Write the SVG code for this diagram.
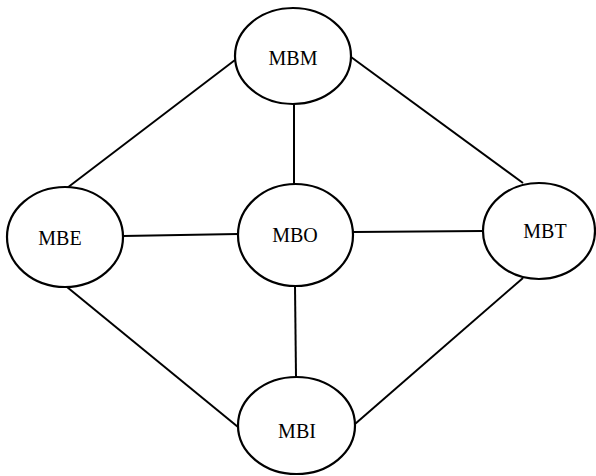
<svg xmlns="http://www.w3.org/2000/svg" width="596" height="476" viewBox="0 0 596 476">
<style>
.n{fill:#fff;stroke:#000;stroke-width:2.2}
.t{font-family:"Liberation Serif","Times New Roman",serif;font-size:20px;fill:#000;text-anchor:middle}
.c line{stroke:#000;stroke-width:2}
</style>
<rect width="596" height="476" fill="#fff"/>
<g class="c" id="connectors">
<line x1="235" y1="60" x2="67" y2="188"/>
<line x1="351" y1="57" x2="523" y2="183"/>
<line x1="67" y1="287" x2="238" y2="427"/>
<line x1="523" y1="278" x2="355" y2="424"/>
<line x1="294" y1="104" x2="294" y2="184"/>
<line x1="123" y1="236" x2="238" y2="234"/>
<line x1="353" y1="232" x2="483" y2="231"/>
<line x1="295" y1="286" x2="296" y2="377"/>
</g>
<g id="MBM"><ellipse class="n" cx="293" cy="56" rx="58" ry="48"/><text class="t" x="293" y="65">MBM</text></g>
<g id="MBE"><ellipse class="n" cx="65" cy="237" rx="58" ry="50"/><text class="t" x="60" y="245">MBE</text></g>
<g id="MBO"><ellipse class="n" cx="295.5" cy="235" rx="57.5" ry="51"/><text class="t" x="295" y="242">MBO</text></g>
<g id="MBT"><ellipse class="n" cx="539" cy="231" rx="56" ry="48"/><text class="t" x="545" y="238">MBT</text></g>
<g id="MBI"><ellipse class="n" cx="296.5" cy="425.5" rx="58.5" ry="48.5"/><text class="t" x="297" y="438">MBI</text></g>
</svg>
